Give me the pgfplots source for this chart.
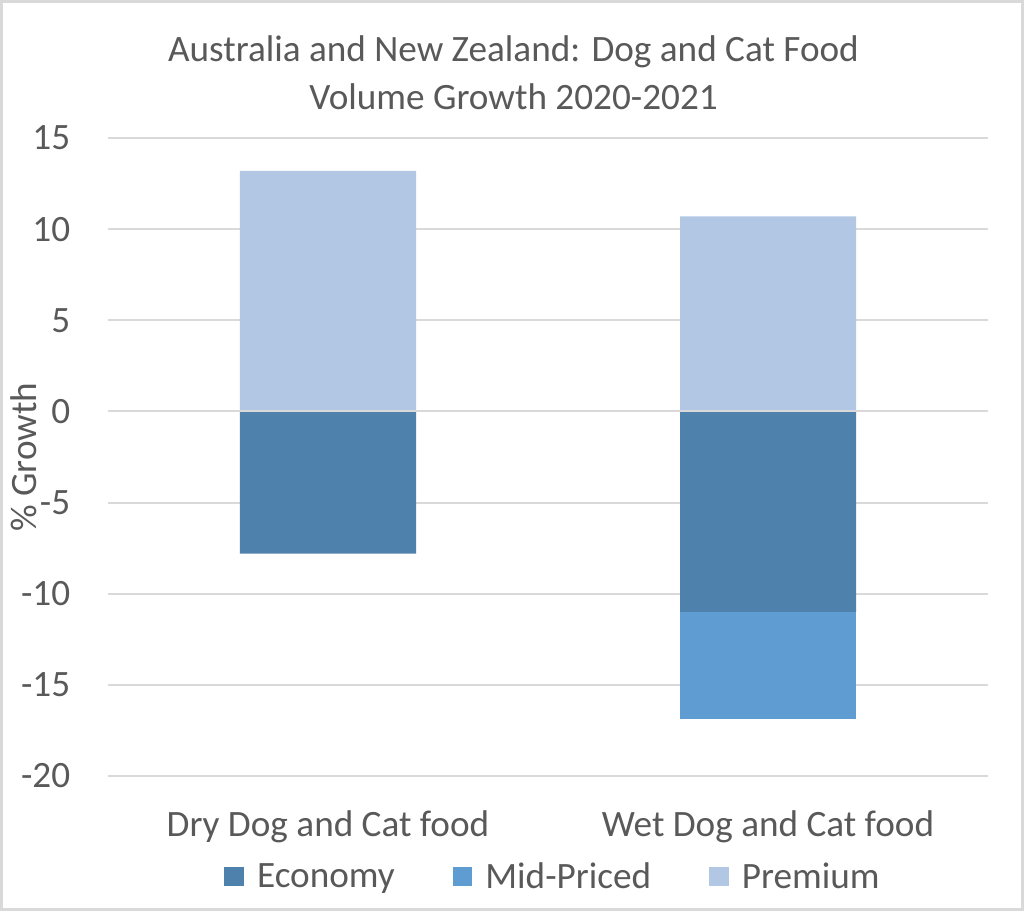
\documentclass[border=0pt]{standalone}
\usepackage{fontspec}
\setmainfont{Carlito}
\usepackage{pgfplots}
\pgfplotsset{compat=1.18}
\definecolor{econ}{RGB}{79,129,173}
\definecolor{midp}{RGB}{94,156,209}
\definecolor{prem}{RGB}{177,199,228}
\definecolor{gridc}{RGB}{217,217,217}
\definecolor{txt}{RGB}{89,89,89}
\definecolor{framec}{RGB}{217,217,217}
\newcommand\fs{\fontsize{18.6}{22}\selectfont}
\begin{document}
\begin{tikzpicture}
\fill[white] (0,0) rectangle (512pt,455.5pt);
\draw[framec, line width=1.5pt] (0.75pt,0.75pt) rectangle (511.25pt,454.75pt);
\node[anchor=base, font=\fs, text=txt, inner sep=0pt] at (256.75pt,424.5pt) {Australia and New Zealand: Dog and Cat Food};
\node[anchor=base, font=\fs, text=txt, inner sep=0pt] at (256.75pt,400.5pt) {Volume Growth 2020-2021};
\begin{axis}[
  at={(54pt,67.5pt)}, anchor=south west,
  scale only axis, width=440pt, height=319pt,
  xmin=-0.5, xmax=1.5, ymin=-20, ymax=15,
  ytick={-20,-15,...,15},
  xtick={0,1},
  xticklabels={Dry Dog and Cat food, Wet Dog and Cat food},
  axis line style={draw=none},
  major tick length=0pt,
  ymajorgrids,
  grid style={gridc, line width=1pt},
  /pgf/number format/assume math mode=true,
  yticklabel style={font=\fs, text=txt, inner sep=0pt, anchor=east, xshift=-18.7pt},
  xticklabel style={font=\fs, text=txt, inner sep=0pt, anchor=base, yshift=-30.5pt},
  ylabel={\% Growth},
  ylabel style={font=\fs, text=txt, at={(axis description cs:-0.0955,0.5)}, anchor=center, inner sep=0pt},
  bar width=88pt,
  legend columns=3,
  legend style={draw=none, fill=none, at={(rel axis cs:0.5,0)}, anchor=north, xshift=2pt, yshift=-43pt, font=\fs, text=txt, inner sep=0pt, /tikz/every even column/.append style={column sep=29pt}, nodes={inner sep=0pt}},
  legend image code/.code={\fill[#1, draw=none] (0pt,-4.8pt) rectangle (9.8pt,5pt); \path (16.3pt,0pt);},
]
\addplot[ybar, bar shift=0pt, fill=midp, draw=none, forget plot] coordinates {(1,-16.9)};
\addplot[ybar, bar shift=0pt, fill=econ, draw=none, forget plot] coordinates {(0,-7.8) (1,-11.0)};
\addplot[ybar, bar shift=0pt, fill=prem, draw=none, forget plot] coordinates {(0,13.2) (1,10.7)};
\addplot[gridc, line width=1pt, mark=none, forget plot] coordinates {(-0.5,0) (1.5,0)};
\addlegendimage{fill=econ, draw=none}
\addlegendentry{Economy}
\addlegendimage{fill=midp, draw=none}
\addlegendentry{Mid-Priced}
\addlegendimage{fill=prem, draw=none}
\addlegendentry{Premium}
\end{axis}
\end{tikzpicture}
\end{document}
